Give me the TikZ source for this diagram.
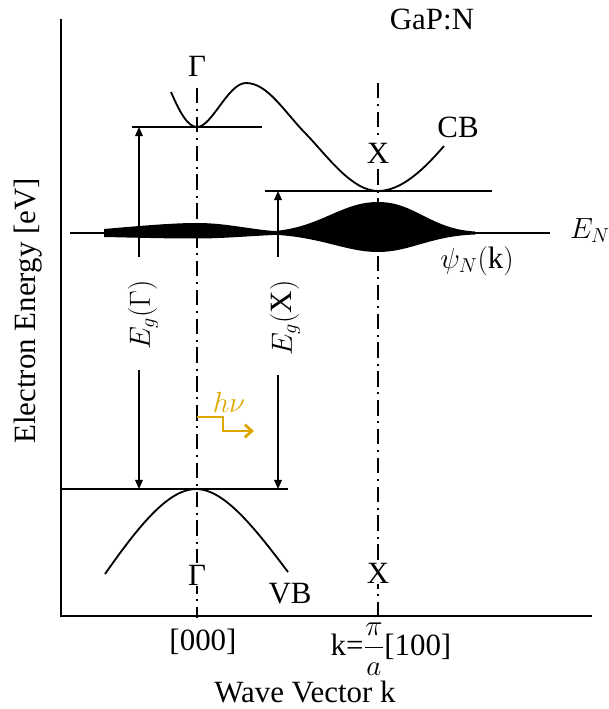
\documentclass[tikz,border=0pt]{standalone}
\usepackage{amsmath}
\usepackage{fontspec}
\setmainfont{Liberation Serif}
\usepackage{tikz}
\usetikzlibrary{arrows.meta, positioning, calc}
\definecolor{cGold}{RGB}{222,167,0}
\tikzset{
	axis/.style     ={line width=1.4pt},
	band/.style     ={line width=1.3pt},
	level/.style    ={line width=1.3pt},
	symline/.style  ={line width=1.1pt, dash pattern=on 11pt off 4pt on 1.5pt off 4pt},
	gaparrow/.style ={-{Triangle[length=6.5pt, width=5.5pt]}, line width=1.1pt},
	hvarrow/.style  ={-{Straight Barb[length=5pt, width=9pt, line width=2pt]}, line width=2pt, cGold},
	ptlbl/.style    ={fill=white, inner sep=1pt, anchor=base},
	lbl/.style      ={inner sep=0pt, anchor=base},
}

\begin{document}
\begin{tikzpicture}[x=0.025cm, y=-0.025cm, font=\fontsize{22}{26}\selectfont]
	\useasboundingbox (0,0) rectangle (609,709);
	% axes
	\coordinate (o) at (61,616);
	\draw[axis] (61,19) -- (o) -- (592,616);
	% symmetry points
	\draw[symline] (197,88) -- (197,618);
	\draw[symline] (378,83) -- (378,618);
	% band edges
	\coordinate (cbG) at (197,127);
	\coordinate (cbX) at (378,191);
	\coordinate (vbG) at (196,489);
	\draw[level] (132,127) -- (262,127);
	\draw[level] (265,191) -- (492,191);
	\draw[level] (61,489) -- (288,489);
	\draw[band] (171,92) .. controls (180,113) and (188,127) .. (cbG)
		.. controls (212,127) and (228,83) .. (246,83)
		.. controls (268,83) and (285,113) .. (307,135)
		.. controls (328,157) and (352,191) .. (cbX)
		.. controls (402,191) and (425,168) .. (444,146);
	\draw[band] (105,574) .. controls (138,527) and (168,489) .. (vbG)
		.. controls (224,489) and (254,527) .. (288,572);
	% nitrogen level and its wavefunction
	\draw[line width=2.1pt] (70,233) -- (550,233);
	\fill (104,229) .. controls (150,225) and (175,223) .. (197,223) .. controls (230,223) and (255,231) .. (285,231.5)
		-- (285,234.5) .. controls (255,235.5) and (225,238.5) .. (197,238.5) .. controls (160,238.5) and (130,237.5) .. (104,237) -- cycle;
	\fill (268,231.5) .. controls (320,229) and (340,202) .. (378,202) .. controls (415,202) and (430,229) .. (475,231.5)
		-- (475,234.5) .. controls (430,236) and (410,252) .. (378,252) .. controls (345,252) and (320,236) .. (268,234.5) -- cycle;
	% gaps
	\coordinate (aG1) at (139,257);
	\coordinate (aG2) at (139,370);
	\coordinate (aX1) at (278,257);
	\coordinate (aX2) at (278,375);
	\draw[gaparrow] (aG1) -- (aG1 |- cbG);
	\draw[gaparrow] (aG2) -- (aG2 |- vbG);
	\draw[gaparrow] (aX1) -- (aX1 |- cbX);
	\draw[gaparrow] (aX2) -- (aX2 |- vbG);
	\node[rotate=90] (egG) at (143,315) {$E_g(\Gamma)$};
	\node[rotate=90] (egX) at (285,318) {$E_g(\mathrm{X})$};
	% photon
	\coordinate (hv0) at (197,417);
	\draw[hvarrow] (hv0) -- ++(26,0) -- ++(0,14) -- ++(31,0);
	\node[lbl, cGold] (hv) at (229,412) {$h\nu$};
	% labels
	\node[lbl] (mat) at (432,30) {GaP:N};
	\node[ptlbl] (gT) at (197,77) {Γ};
	\node[ptlbl] (xT) at (378,163) {X};
	\node[lbl] (cb) at (458,138) {CB};
	\node[lbl] (en) at (590,238) {$E_N$};
	\node[lbl] (psi) at (477,268) {$\psi_N(\mathrm{k})$};
	\node[ptlbl] (gB) at (197,585) {Γ};
	\node[ptlbl] (xB) at (378,583) {X};
	\node[lbl] (vb) at (290,603) {VB};
	\node[lbl] (k0) at (203,650) {[000]};
	\node[lbl] (kX) at (391,655) {k=$\dfrac{\pi}{a}$[100]};
	\node[lbl] (kax) at (305,702) {Wave Vector k};
	\node[rotate=90] (eax) at (28,311) {Electron Energy [eV]};
\end{tikzpicture}
\end{document}
